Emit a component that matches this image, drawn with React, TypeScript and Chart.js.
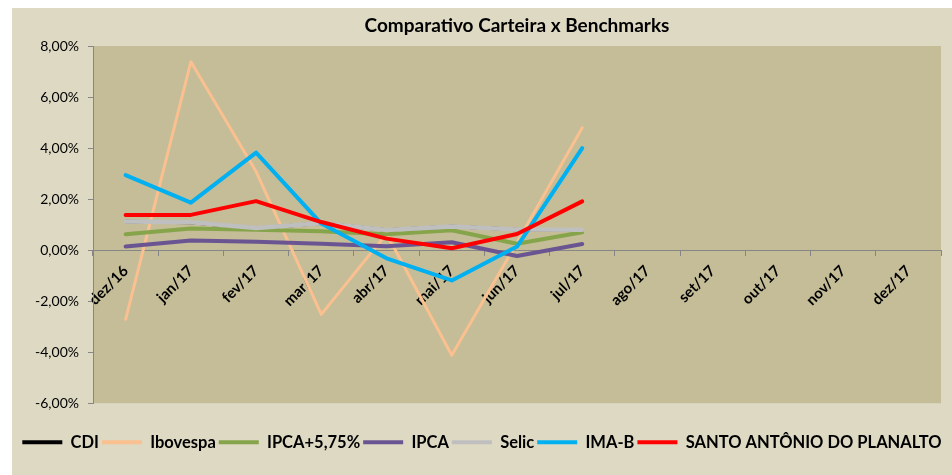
import React, { useEffect, useRef } from 'react';
import { Chart, registerables } from 'chart.js';

Chart.register(...registerables);

const categories = ['dez/16', 'jan/17', 'fev/17', 'mar/17', 'abr/17', 'mai/17', 'jun/17', 'jul/17', 'ago/17', 'set/17', 'out/17', 'nov/17', 'dez/17'];
const seriesNames = ['CDI', 'Ibovespa', 'IPCA+5,75%', 'IPCA', 'Selic', 'IMA-B', 'SANTO ANTÔNIO DO PLANALTO'];
const cdi = [1.12, 1.08, 0.86, 1.05, 0.79, 0.93, 0.81, 0.8, null, null, null, null, null];
const ibovespa = [-2.71, 7.38, 3.08, -2.52, 0.64, -4.12, 0.3, 4.8, null, null, null, null, null];
const ipca575 = [0.62, 0.85, 0.8, 0.74, 0.62, 0.78, 0.25, 0.7, null, null, null, null, null];
const ipca = [0.14, 0.38, 0.33, 0.25, 0.15, 0.31, -0.23, 0.24, null, null, null, null, null];
const selic = [1.12, 1.09, 0.87, 1.05, 0.79, 0.93, 0.81, 0.8, null, null, null, null, null];
const imab = [2.94, 1.86, 3.82, 1.04, -0.32, -1.19, 0.14, 4.0, null, null, null, null, null];
const carteira = [1.38, 1.38, 1.92, 1.1, 0.45, 0.07, 0.63, 1.91, null, null, null, null, null];
const yTicks = [-6, -4, -2, 0, 2, 4, 6, 8];

const seriesValues = [cdi, ibovespa, ipca575, ipca, selic, imab, carteira];
const seriesColors = ['#000000', '#FAC090', '#86A44A', '#6A5592', '#BFBFBF', '#00B0F0', '#FF0000'];
const seriesWidths = [3.5, 3, 4, 4, 4.5, 4, 4];

const FONT = 'Lato, "Open Sans", sans-serif';

const bgPlugin = {
  id: 'bgPlugin',
  beforeDraw(chart: any) {
    const { ctx, chartArea } = chart;
    ctx.save();
    ctx.fillStyle = '#DDD9C3';
    ctx.fillRect(0, 0, chart.width, chart.height);
    ctx.fillStyle = '#C4BD97';
    ctx.fillRect(chartArea.left, chartArea.top, chartArea.right - chartArea.left, chartArea.bottom - chartArea.top);
    ctx.restore();
  },
};

export default function App() {
  const ref = useRef<HTMLCanvasElement | null>(null);
  useEffect(() => {
    if (!ref.current) return;
    const chart = new Chart(ref.current, {
      type: 'line',
      data: {
        labels: categories,
        datasets: seriesNames.map((name, i) => ({
          label: name,
          data: seriesValues[i],
          borderColor: seriesColors[i],
          backgroundColor: seriesColors[i],
          borderWidth: seriesWidths[i],
          pointRadius: 0,
          pointHoverRadius: 0,
          tension: 0,
          borderCapStyle: 'round',
          borderJoinStyle: 'round',
          spanGaps: false,
          yAxisID: 'y',
          order: seriesNames.length - i,
        })),
      },
      options: {
        responsive: false,
        animation: false,
        events: [],
        layout: { padding: { left: 0, right: 0, top: 0, bottom: 14.5 } },
        plugins: {
          tooltip: { enabled: false },
          title: {
            display: true,
            fullSize: false,
            text: 'Comparativo Carteira x Benchmarks',
            color: '#000',
            font: { family: FONT, size: 19, weight: 'bold', lineHeight: 1.2 },
            padding: { top: 6.6, bottom: 8.6 },
          },
          legend: {
            display: true,
            position: 'bottom',
            title: { display: true, text: '', padding: { top: 13.4, bottom: 0 }, font: { size: 12, lineHeight: 1.2 } },
            labels: {
              boxWidth: 40,
              boxHeight: 4,
              padding: 3,
              color: '#000',
              font: { family: FONT, size: 16.5, weight: 'bold' },
              generateLabels: (c: any) =>
                c.data.datasets.map((ds: any, i: number) => ({
                  text: ds.label,
                  fillStyle: ds.borderColor,
                  strokeStyle: ds.borderColor,
                  lineWidth: 0,
                  hidden: false,
                  datasetIndex: i,
                  fontColor: '#000',
                })),
            },
          },
        },
        scales: {
          x: {
            type: 'category',
            position: { y: 0 } as any,
            offset: true,
            grid: {
              display: true,
              offset: true,
              drawOnChartArea: false,
              drawTicks: true,
              tickLength: 5,
              color: '#868686',
            },
            border: { display: true, color: '#868686', width: 1 },
            ticks: {
              autoSkip: false,
              minRotation: 45,
              maxRotation: 45,
              padding: 7,
              color: '#000',
              font: { family: FONT, size: 15, weight: 'bold' },
            },
          },
          y: {
            min: -6,
            max: 8,
            afterFit: (s: any) => {
              s.width = 81;
            },
            afterBuildTicks: (s: any) => {
              s.ticks = yTicks.map((v) => ({ value: v }));
            },
            grid: {
              display: true,
              drawOnChartArea: false,
              drawTicks: true,
              tickLength: 5,
              color: '#868686',
            },
            border: { display: true, color: '#868686', width: 1 },
            ticks: {
              padding: 9,
              color: '#000',
              font: { family: FONT, size: 14 },
              callback: (v: any) => Number(v).toFixed(2).replace('.', ',') + '%',
            },
          },
          yRight: {
            position: 'right',
            display: true,
            min: -6,
            max: 8,
            afterFit: (s: any) => {
              s.width = 11;
            },
            grid: { display: false, drawTicks: false },
            border: { display: false },
            ticks: { display: false },
          },
        },
      },
      plugins: [bgPlugin],
    } as any);
    return () => chart.destroy();
  }, []);
  return (
    <div style={{ position: 'absolute', left: 12, top: 8, width: 940, height: 467 }}>
      <canvas ref={ref} width={940} height={467} style={{ display: 'block', width: 940, height: 467 }} />
    </div>
  );
}
